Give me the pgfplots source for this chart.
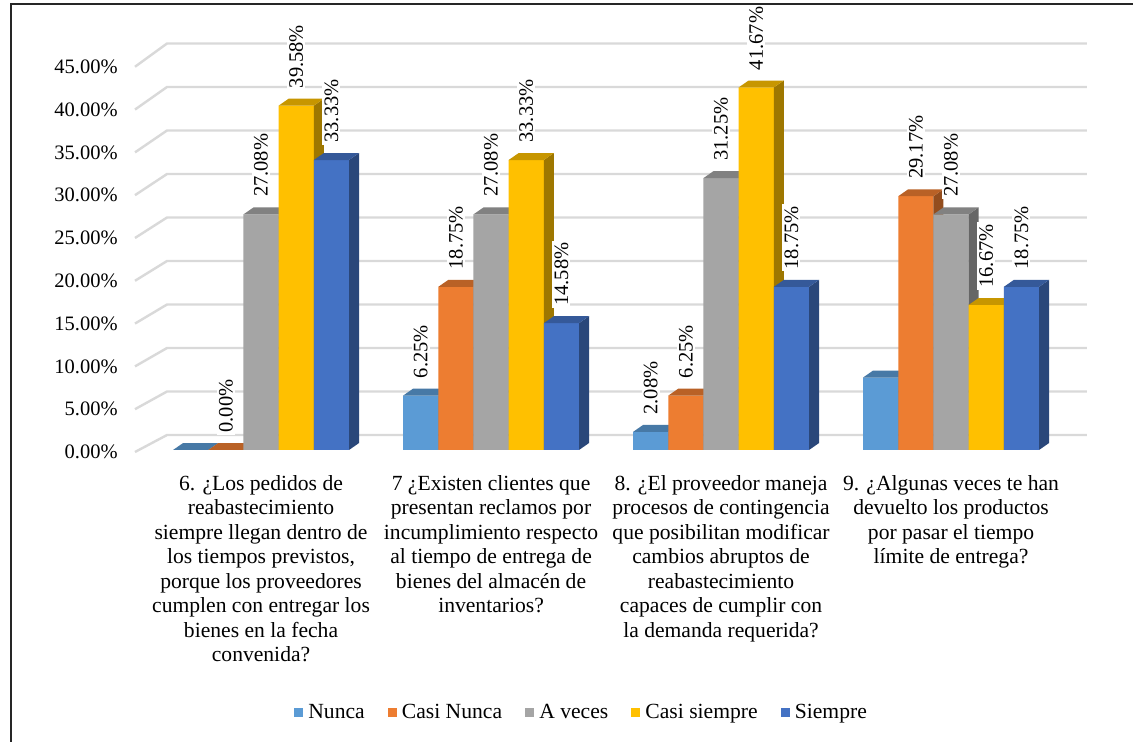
\documentclass[border=0pt]{standalone}
\usepackage{fontspec}
\setmainfont{Liberation Serif}
\newfontfamily\chartfam{Liberation Serif}
\usepackage{pgfplots}
\usepackage{pgfplotstable}
\pgfplotsset{compat=1.18}
\definecolor{cA}{HTML}{5B9BD5}
\definecolor{cB}{HTML}{ED7D31}
\definecolor{cC}{HTML}{A5A5A5}
\definecolor{cD}{HTML}{FFC000}
\definecolor{cE}{HTML}{4472C4}
\definecolor{gridc}{HTML}{D9D9D9}
\newcommand\chartfont{\chartfam\fontsize{10.25}{12.25}\selectfont}
\newcommand\catfont{\chartfam\fontsize{10.8}{12.25}\selectfont}

\pgfplotstableread{
g nunca casinunca aveces casisiempre siempre
0 0 0 27.08 39.58 33.33
1 6.25 18.75 27.08 33.33 14.58
2 2.08 6.25 31.25 41.67 18.75
3 8.33 29.17 27.08 16.67 18.75
}\datatable

\def\bw{0.153}
\def\ddx{0.0435}
\def\ddy{0.8}
\def\wdx{0.139}
\def\wdy{1.72}
\def\xlo{-0.548}
\def\xhi{3.591}

\newcommand\faces[3]{%
  \pgfplotsforeachungrouped \g in {0,1,2,3}{%
    \pgfplotstablegetelem{\g}{#1}\of\datatable
    \let\val\pgfplotsretval
    \pgfmathsetmacro\xa{\g+(#2-2.5)*\bw}%
    \pgfmathsetmacro\xb{\xa+\bw}%
    \pgfmathsetmacro\xc{\xb+\ddx}%
    \pgfmathsetmacro\xd{\xa+\ddx}%
    \pgfmathsetmacro\vt{\val+\ddy}%
    \edef\temp{%
      \noexpand\addplot[fill=#3!62!black, draw=none, forget plot] coordinates {(\xb,0) (\xc,\ddy) (\xc,\vt) (\xb,\val)};
      \noexpand\addplot[fill=#3!78!black, draw=none, forget plot] coordinates {(\xa,\val) (\xd,\vt) (\xc,\vt) (\xb,\val)};
    }\temp
  }%
}

\pgfplotsset{
  front/.style={ybar, bar width=\bw, bar shift=#1, draw=none,
    legend image code/.code={\fill[##1] (0pt,-2.3pt) rectangle (4.6pt,2.3pt);}},
  labs/.style={draw=none, mark=none, forget plot,
    point meta=y,
    nodes near coords={\pgfmathprintnumber[fixed,fixed zerofill,precision=2]{\pgfplotspointmeta}\%},
    every node near coord/.append style={font=\chartfont, text=black, rotate=90, anchor=west, xshift=7.5pt, fill=white, inner sep=1pt}},
}

\begin{document}
\begin{tikzpicture}
\useasboundingbox (0,0) rectangle (566.5pt,371pt);
\fill[white] (0,0) rectangle (566.5pt,371pt);
\begin{axis}[
  at={(67.5pt,143.825pt)}, anchor=south west,
  x=115pt, y=4.35pt,
  xmin=\xlo, xmax=\xhi, ymin=-0.5, ymax=47,
  clip=false,
  axis line style={draw=none},
  tick style={draw=none},
  /pgf/number format/assume math mode=true,
  ytick={-0.23,4.69,9.61,14.53,19.45,24.37,29.29,34.21,39.13,44.05},
  yticklabels={0.00\%,5.00\%,10.00\%,15.00\%,20.00\%,25.00\%,30.00\%,35.00\%,40.00\%,45.00\%},
  yticklabel style={font=\chartfont, anchor=east, inner sep=0pt, xshift=-8.5pt},
  xtick={0,1,2,3},
  xticklabels={{6. ¿Los pedidos de\\reabastecimiento\\siempre llegan dentro de\\los tiempos previstos,\\porque los proveedores\\cumplen con entregar los\\bienes en la fecha\\convenida?},
    {7 ¿Existen clientes que\\presentan reclamos por\\incumplimiento respecto\\al tiempo de entrega de\\bienes del almacén de\\inventarios?},
    {8. ¿El proveedor maneja\\procesos de contingencia\\que posibilitan modificar\\cambios abruptos de\\reabastecimiento\\capaces de cumplir con\\la demanda requerida?},
    {9. ¿Algunas veces te han\\devuelto los productos\\por pasar el tiempo\\límite de entrega?}},
  xticklabel style={font=\catfont, align=center, anchor=north, inner sep=0pt, yshift=-10.3pt},
  legend style={at={(0.4706,-0.625)}, anchor=center, draw=none, fill=none,
    legend columns=-1, font=\catfont,
    nodes={inner xsep=2.5pt},
    /tikz/every even column/.append style={column sep=9pt}},
]
% side wall and back wall grid lines
\pgfplotsforeachungrouped \v/\t in {0/-0.23,5/4.69,10/9.61,15/14.53,20/19.45,25/24.37,30/29.29,35/34.21,40/39.13,45/44.05}{%
  \pgfmathsetmacro\vb{\v+\wdy}%
  \pgfmathsetmacro\xw{\xlo+\wdx}%
  \edef\temp{\noexpand\addplot[gridc, line width=1.2pt, forget plot] coordinates {(\xlo,\t) (\xw,\vb) (\xhi,\vb)};}\temp
}

\addplot[front=-0.306, fill=cA] table[x=g, y=nunca] {\datatable};
\addlegendentry{Nunca}
\faces{nunca}{0}{cA}
\addplot[front=-0.153, fill=cB] table[x=g, y=casinunca] {\datatable};
\addlegendentry{Casi Nunca}
\faces{casinunca}{1}{cB}
\addplot[front=0, fill=cC] table[x=g, y=aveces] {\datatable};
\addlegendentry{A veces}
\faces{aveces}{2}{cC}
\addplot[front=0.153, fill=cD] table[x=g, y=casisiempre] {\datatable};
\addlegendentry{Casi siempre}
\faces{casisiempre}{3}{cD}
\addplot[front=0.306, fill=cE] table[x=g, y=siempre] {\datatable};
\addlegendentry{Siempre}
\faces{siempre}{4}{cE}

% data labels
\addplot[labs, skip coords between index={0}{1}, skip coords between index={3}{4}] table[x expr=\thisrow{g}-0.306, y=nunca] {\datatable};
\addplot[labs] table[x expr=\thisrow{g}-0.153, y=casinunca] {\datatable};
\addplot[labs] table[x expr=\thisrow{g}, y=aveces] {\datatable};
\addplot[labs] table[x expr=\thisrow{g}+0.153, y=casisiempre] {\datatable};
\addplot[labs] table[x expr=\thisrow{g}+0.306, y=siempre] {\datatable};
\end{axis}
\draw[line width=1pt, black!85] (5.25pt,-2pt) |- (568pt,369pt);
\end{tikzpicture}
\end{document}
